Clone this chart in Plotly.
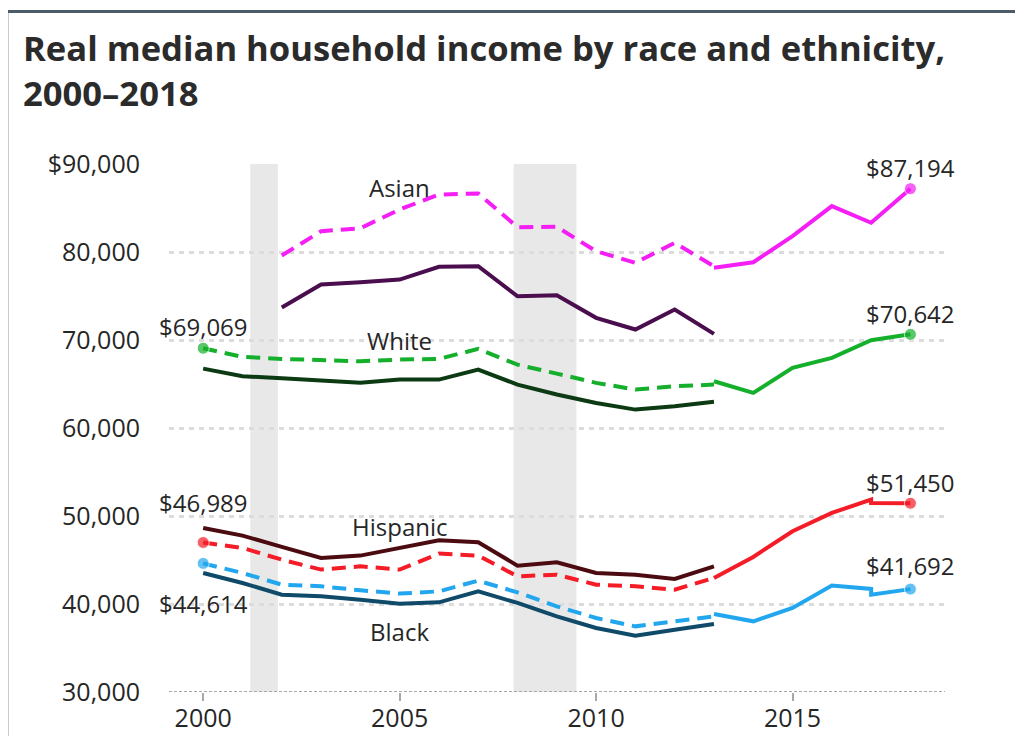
import plotly.graph_objects as go

# Values (real median household income, 2018 dollars)
years_old = list(range(2000, 2014))  # 2000-2013, pre-redesign series (dashed)
years_new = [2013, 2014, 2015, 2016, 2017, 2017, 2018]  # redesign series (solid)
years_asian_old = list(range(2002, 2014))

asian_dashed = [79600, 82360, 82700, 84830, 86530, 86650, 82820, 82860, 80090, 78770, 81040, 78380]
asian_alone = [73690, 76300, 76560, 76870, 78310, 78380, 74970, 75090, 72520, 71190, 73460, 70700]
asian_new = [78200, 78840, 81800, 85210, 83320, 83320, 87194]

white_dashed = [69069, 68080, 67850, 67660, 67580, 67780, 67850, 68990, 67200, 66180, 65130, 64370, 64740, 64930]
white_alone = [66750, 65880, 65650, 65420, 65130, 65500, 65500, 66640, 64930, 63800, 62850, 62090, 62470, 62970]
white_new = [65310, 63990, 66830, 67970, 69970, 69970, 70642]

hisp_dashed = [46989, 46370, 45040, 43910, 44280, 43910, 45730, 45500, 43140, 43330, 42200, 42010, 41630, 42960]
hisp_alone = [48640, 47770, 46490, 45230, 45500, 46370, 47240, 47010, 44360, 44740, 43530, 43330, 42840, 44280]
hisp_new = [42960, 45350, 48270, 50350, 51860, 51480, 51450]

black_dashed = [44614, 43530, 42200, 42010, 41560, 41180, 41440, 42650, 41320, 39730, 38410, 37460, 38030, 38600]
black_alone = [43530, 42390, 41060, 40870, 40490, 40040, 40190, 41440, 40120, 38600, 37270, 36400, 37080, 37730]
black_new = [38870, 38030, 39550, 42090, 41710, 41060, 41692]

recessions = [(2001.2, 2001.9), (2007.9, 2009.5)]

y_ticks = [30000, 40000, 50000, 60000, 70000, 80000, 90000]
y_ticktext = ["30,000", "40,000", "50,000", "60,000", "70,000", "80,000", "$90,000"]
x_ticks = [2000, 2005, 2010, 2015]

FONT = "Open Sans"
TXT = "#262626"
DASH = "14px,8px"

fig = go.Figure()


def line(x, y, color, dash=None, markers=()):
    sizes = [12 if i in markers else 0 for i in range(len(x))]
    fig.add_trace(go.Scatter(
        x=x, y=y, mode="lines+markers",
        line=dict(color=color, width=4, dash=dash or "solid"),
        marker=dict(size=sizes, color=color),
        hoverinfo="x+y", showlegend=False,
    ))


line(years_asian_old, asian_alone, "#4a0d4e")
line(years_asian_old, asian_dashed, "#f51ef5", DASH)
line(years_new, asian_new, "#f51ef5", markers=(6,))

line(years_old, white_alone, "#0c3a13")
line(years_old, white_dashed, "#14b02c", DASH, markers=(0,))
line(years_new, white_new, "#14b02c", markers=(6,))

line(years_old, hisp_alone, "#4b0b10")
line(years_old, hisp_dashed, "#f41c26", DASH, markers=(0,))
line(years_new, hisp_new, "#f41c26", markers=(6,))

line(years_old, black_alone, "#0f4a69")
line(years_old, black_dashed, "#22a7ef", DASH, markers=(0,))
line(years_new, black_new, "#22a7ef", markers=(6,))

shapes = [
    dict(type="rect", xref="x", yref="y", x0=a, x1=b, y0=30000, y1=90000,
         fillcolor="#e8e8e8", line=dict(width=0), layer="below")
    for a, b in recessions
]
# bottom axis line
shapes.append(dict(type="line", xref="paper", yref="y", x0=0, x1=1, y0=30000, y1=30000,
                   line=dict(color="#a8a8a8", width=2, dash="3px,2px")))
# outer frame (runs past the right/bottom edge of the picture)
shapes.append(dict(type="rect", xref="paper", yref="paper", x0=-0.209, x1=1.3, y0=-0.3, y1=1.289,
                   line=dict(color="#4b5b67", width=3)))

annotations = [dict(
    xref="paper", yref="paper", x=-0.191, y=1.268, xanchor="left", yanchor="top",
    align="left", showarrow=False,
    text="<b>Real median household income by race and ethnicity,<br>2000–2018</b>",
    font=dict(family=FONT, size=34.6, color="#2b2b2b"),
)]
# series names
for name, yv in [("Asian", 87330), ("White", 69940), ("Hispanic", 48800), ("Black", 36870)]:
    annotations.append(dict(x=2005, y=yv, text=name, showarrow=False,
                            font=dict(family=FONT, size=24, color=TXT)))

# value labels at the ends
ends = [
    (2000, white_dashed[0], 22), (2000, hisp_dashed[0], 40), (2000, black_dashed[0], -40),
    (2018, asian_new[-1], 21), (2018, white_new[-1], 21), (2018, hisp_new[-1], 21),
    (2018, black_new[-1], 24),
]
for xv, yv, shift in ends:
    annotations.append(dict(x=xv, y=yv, text=f"${yv:,}", showarrow=False, yshift=shift,
                            font=dict(family=FONT, size=24, color=TXT)))

fig.update_layout(
    width=1023, height=736,
    margin=dict(l=161, r=86, t=156, b=52, autoexpand=False),
    paper_bgcolor="white", plot_bgcolor="white",
    xaxis=dict(
        range=[1999.13, 2018.88], tickvals=x_ticks, ticks="outside", ticklen=8,
        tickwidth=2, tickcolor="#a8a8a8", showgrid=False, showline=False, zeroline=False,
        tickfont=dict(family=FONT, size=25, color=TXT), ticklabelstandoff=-4,
    ),
    yaxis=dict(
        range=[30000, 90000], tickvals=y_ticks, ticktext=y_ticktext,
        showgrid=True, gridcolor="#dcdcdc", gridwidth=3, griddash="5px,5px",
        zeroline=False, showline=False, ticks="", ticklabelstandoff=28,
        tickfont=dict(family=FONT, size=25, color=TXT),
    ),
    shapes=shapes,
    annotations=annotations,
)

fig.write_html("out.html")
